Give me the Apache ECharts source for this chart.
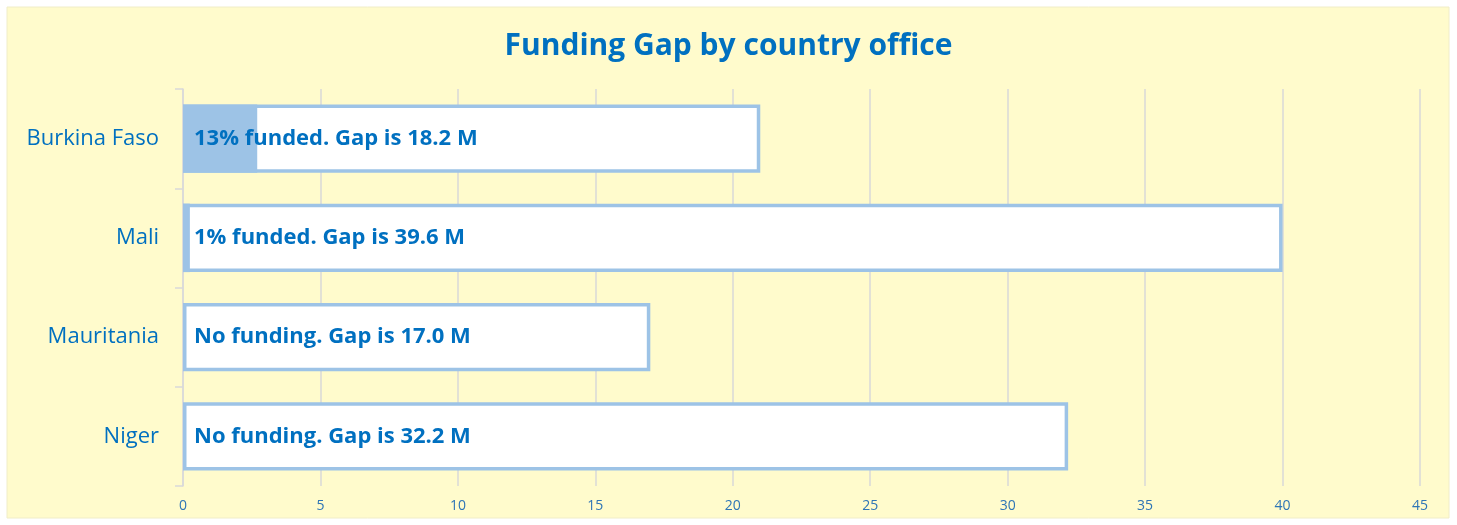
<!DOCTYPE html>
<html><head><meta charset="utf-8">
<script src="https://cdn.jsdelivr.net/npm/echarts@6/dist/echarts.min.js"></script>
<style>html,body{margin:0;padding:0;background:#fff}#c{width:1457px;height:525px}</style>
</head><body><div id="c"></div>
<script>
const categories = ['Burkina Faso', 'Mali', 'Mauritania', 'Niger'];
const required = [21.0, 40.0, 17.0, 32.2];
const funded = [2.7, 0.25, 0, 0];
const barLabels = ['13% funded. Gap is 18.2 M', '1% funded. Gap is 39.6 M', 'No funding. Gap is 17.0 M', 'No funding. Gap is 32.2 M'];
const xTicks = [0, 5, 10, 15, 20, 25, 30, 35, 40, 45];

const chart = echarts.init(document.getElementById('c'));
const FONT = 'Open Sans';
chart.setOption({
  backgroundColor: '#ffffff',
  animation: false,
  graphic: [{type: 'rect', z: -10, silent: true, shape: {x: 7, y: 7, width: 1442, height: 511}, style: {fill: '#FFFBCC', stroke: '#F0EDC8', lineWidth: 1}}],
  title: {text: 'Funding Gap by country office', left: 'center', top: 26,
    textStyle: {fontFamily: FONT, fontWeight: 'bold', fontSize: 30, color: '#0070C0'}},
  grid: {left: 183, right: 37, top: 89, bottom: 39, containLabel: false},
  xAxis: {type: 'value', min: xTicks[0], max: xTicks[xTicks.length - 1], interval: 5,
    axisLine: {show: false}, axisTick: {show: false},
    axisLabel: {fontFamily: FONT, fontSize: 14, color: '#2E75B6', margin: 13},
    splitLine: {lineStyle: {color: '#D9D9D9', width: 1.5}}},
  yAxis: {type: 'category', data: categories, inverse: true,
    axisLine: {lineStyle: {color: '#D9D9D9', width: 1.5}},
    axisTick: {show: true, length: 8, lineStyle: {color: '#D9D9D9', width: 1.5}},
    axisLabel: {fontFamily: FONT, fontSize: 22, color: '#0070C0', margin: 24}},
  series: [
    {type: 'bar', data: required, barWidth: '69%', z: 2,
      itemStyle: {color: '#ffffff', borderColor: '#9DC3E6', borderWidth: 3.5}},
    {type: 'bar', data: funded, barWidth: '69%', barGap: '-100%', z: 3,
      itemStyle: {color: '#9DC3E6'}},
    {type: 'bar', data: required, barWidth: '69%', barGap: '-100%', z: 5, silent: true,
      itemStyle: {color: 'rgba(0,0,0,0)'},
      label: {show: true, position: 'insideLeft', distance: 11,
        formatter: p => barLabels[p.dataIndex],
        fontFamily: FONT, fontWeight: 'bold', fontSize: 22, color: '#0070C0'}}
  ]
});
</script></body></html>
